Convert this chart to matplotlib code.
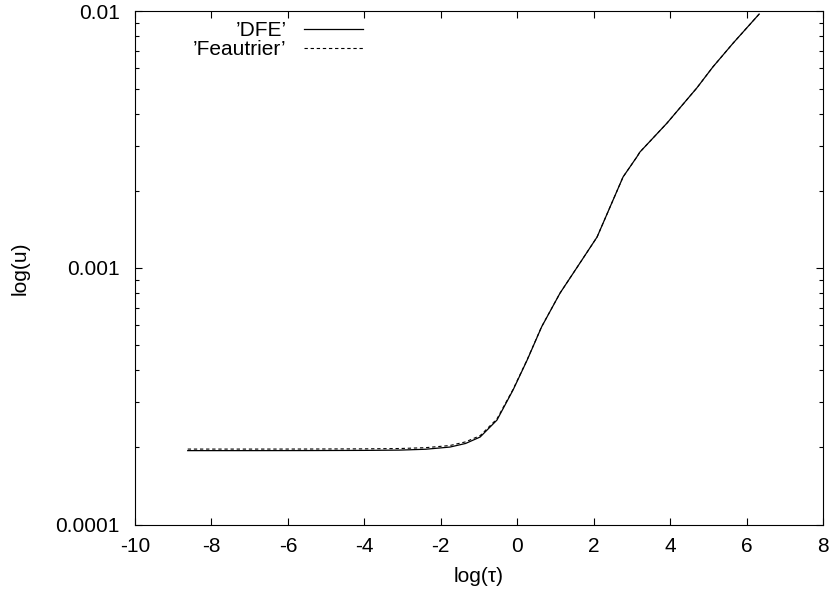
import matplotlib
matplotlib.use('Agg')
import matplotlib.pyplot as plt
from matplotlib.ticker import FixedLocator, FixedFormatter, LogLocator, NullFormatter

plt.rcParams['font.family'] = ['Liberation Sans', 'DejaVu Sans']
plt.rcParams['axes.unicode_minus'] = False

# values (x = log tau, y = u)
tau_dfe = [-8.62, -7.0, -5.5, -4.0, -3.07, -2.4, -1.76, -1.35, -0.97, -0.53, -0.11, 0.26, 0.64,
           1.12, 1.64, 2.09, 2.43, 2.77, 3.13, 3.21, 3.92, 4.70, 5.12, 5.65, 6.33]
u_dfe = [1.941e-4, 1.941e-4, 1.942e-4, 1.945e-4, 1.950e-4, 1.965e-4, 2.004e-4, 2.07e-4, 2.193e-4,
         2.553e-4, 3.342e-4, 4.375e-4, 5.90e-4, 7.98e-4, 1.045e-3, 1.321e-3, 1.730e-3, 2.265e-3,
         2.710e-3, 2.831e-3, 3.673e-3, 5.035e-3, 6.08e-3, 7.53e-3, 9.77e-3]

tau_feau = [-8.62, -7.0, -5.5, -4.0, -3.07, -2.4, -1.76, -1.35, -0.97, -0.53, -0.11, 0.26, 0.64,
            1.12, 1.64, 2.09, 2.43, 2.77, 3.13, 3.21, 3.92, 4.70, 5.12, 5.65, 6.33]
u_feau = [1.968e-4, 1.968e-4, 1.969e-4, 1.972e-4, 1.978e-4, 1.993e-4, 2.032e-4, 2.10e-4, 2.22e-4,
          2.58e-4, 3.36e-4, 4.39e-4, 5.91e-4, 7.98e-4, 1.045e-3, 1.321e-3, 1.730e-3, 2.265e-3,
          2.710e-3, 2.831e-3, 3.673e-3, 5.035e-3, 6.08e-3, 7.53e-3, 9.77e-3]

xticks = [-10, -8, -6, -4, -2, 0, 2, 4, 6, 8]
yticks = [1e-4, 1e-3, 1e-2]
ytick_labels = ['0.0001', '0.001', '0.01']

fig = plt.figure(figsize=(8.31, 5.98), dpi=100)
ax = fig.add_axes([0.16245, 0.1229, 0.8279, 0.8579])

ax.plot(tau_dfe, u_dfe, c='k', ls='-', lw=0.9, label='\u2019DFE\u2019')
ax.plot(tau_feau, u_feau, c='k', ls=(0, (3.0, 2.5)), lw=0.8, label='\u2019Feautrier\u2019')

ax.set_yscale('log')
ax.set_xlim(-10, 8)
ax.set_ylim(1e-4, 1e-2)
ax.xaxis.set_major_locator(FixedLocator(xticks))
ax.yaxis.set_major_locator(FixedLocator(yticks))
ax.yaxis.set_major_formatter(FixedFormatter(ytick_labels))
ax.yaxis.set_minor_locator(LogLocator(base=10, subs=range(2, 10)))
ax.yaxis.set_minor_formatter(NullFormatter())
ax.tick_params(which='both', direction='in', top=True, right=True, labelsize=15)
ax.tick_params(axis='x', pad=9)
ax.tick_params(axis='y', pad=11)
ax.tick_params(which='major', length=5, width=0.8)
ax.tick_params(which='minor', length=3, width=0.8)
for s in ax.spines.values():
    s.set_linewidth(0.8)

ax.set_xlabel('log(\u03c4)', size=15)
ax.set_ylabel('log(u)', size=15)
ax.xaxis.set_label_coords(0.5, -0.083)
ax.yaxis.set_label_coords(-0.1526, 0.5)

ax.legend(loc='upper right', bbox_to_anchor=(0.3314, 0.981), frameon=False, markerfirst=False,
          fontsize=15, handlelength=2.84, handletextpad=0.82, labelspacing=0.0,
          borderpad=0, borderaxespad=0)

fig.savefig('out.png', dpi=100)
